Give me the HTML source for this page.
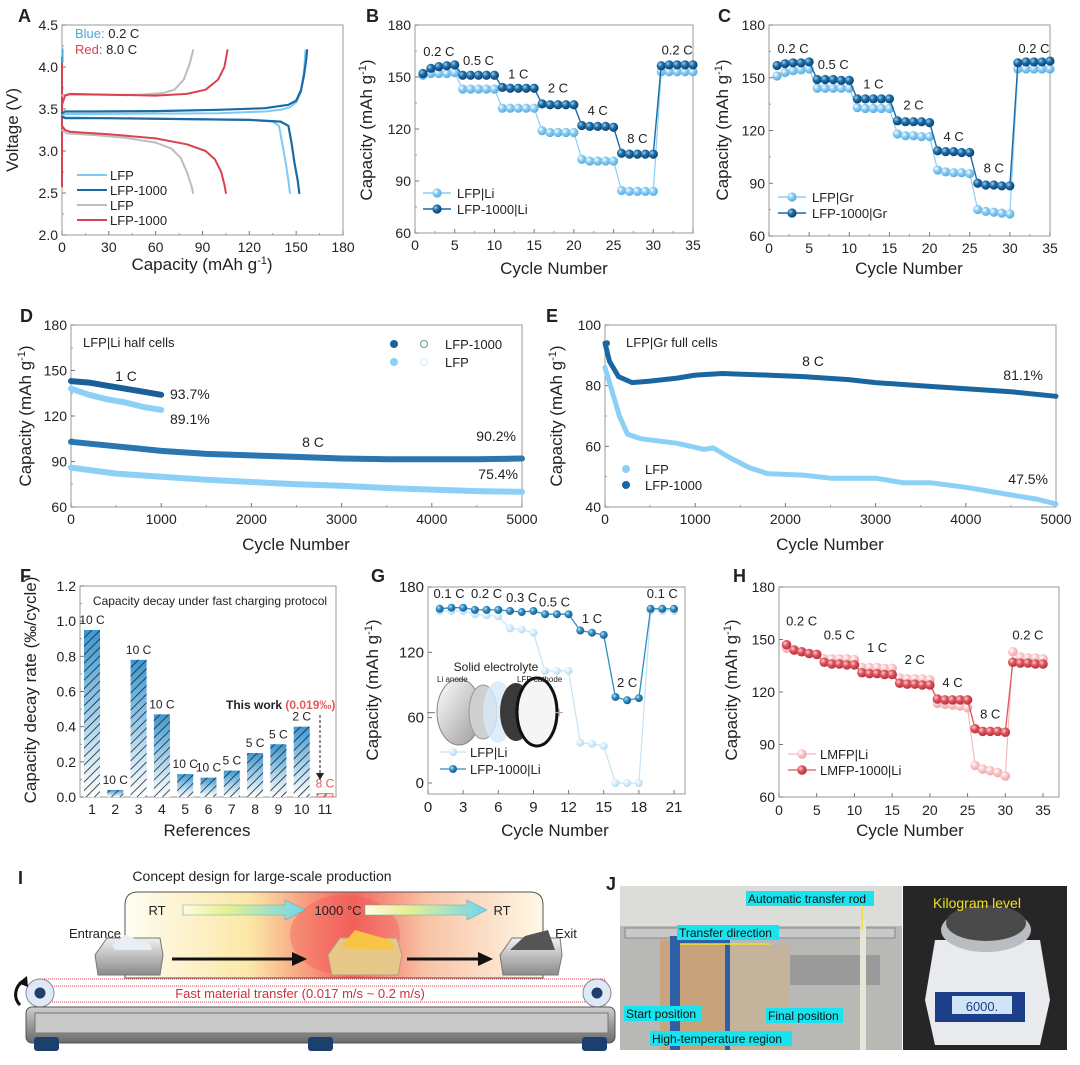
<!DOCTYPE html>
<html><head><meta charset="utf-8">
<style>
html,body{margin:0;padding:0;background:#fff;}
svg{display:block;font-family:"Liberation Sans",Arial,sans-serif;}
</style></head>
<body>
<svg id="fig" width="1080" height="1065" viewBox="0 0 1080 1065" xmlns="http://www.w3.org/2000/svg">
<defs>
<radialGradient id="sphDark" cx="35%" cy="35%" r="65%"><stop offset="0" stop-color="#9fd0f0"/><stop offset="0.45" stop-color="#1d6fa8"/><stop offset="1" stop-color="#0d4373"/></radialGradient>
<radialGradient id="sphLight" cx="35%" cy="35%" r="65%"><stop offset="0" stop-color="#ffffff"/><stop offset="0.45" stop-color="#8ccdf2"/><stop offset="1" stop-color="#5aaee0"/></radialGradient>
<radialGradient id="sphGDark" cx="35%" cy="35%" r="65%"><stop offset="0" stop-color="#bfe4f8"/><stop offset="0.45" stop-color="#2f8cc4"/><stop offset="1" stop-color="#1a628f"/></radialGradient>
<radialGradient id="sphGLight" cx="35%" cy="35%" r="65%"><stop offset="0" stop-color="#ffffff"/><stop offset="0.5" stop-color="#d4ecf9"/><stop offset="1" stop-color="#b3dcf2"/></radialGradient>
<radialGradient id="sphRed" cx="35%" cy="35%" r="65%"><stop offset="0" stop-color="#fbd0d3"/><stop offset="0.45" stop-color="#e0555f"/><stop offset="1" stop-color="#b3333d"/></radialGradient>
<radialGradient id="sphPink" cx="35%" cy="35%" r="65%"><stop offset="0" stop-color="#ffffff"/><stop offset="0.5" stop-color="#f9c6c8"/><stop offset="1" stop-color="#f2a5a9"/></radialGradient>
<linearGradient id="barGrad" x1="0" y1="0" x2="0" y2="1"><stop offset="0" stop-color="#3b97d3"/><stop offset="0.55" stop-color="#a9d4ef"/><stop offset="1" stop-color="#ffffff"/></linearGradient>
<pattern id="hatch" width="6" height="6" patternUnits="userSpaceOnUse" patternTransform="rotate(45)"><line x1="0" y1="0" x2="0" y2="6" stroke="#222" stroke-width="1.6"/></pattern>
<linearGradient id="ovenGrad" x1="0" y1="0" x2="1" y2="0"><stop offset="0" stop-color="#fffdf2"/><stop offset="0.3" stop-color="#fbe7a6"/><stop offset="0.5" stop-color="#f57a6c"/><stop offset="0.55" stop-color="#f26a60"/><stop offset="0.72" stop-color="#f8c3a6"/><stop offset="1" stop-color="#fff8e6"/></linearGradient>
<linearGradient id="arrGrad" x1="0" y1="0" x2="1" y2="0"><stop offset="0" stop-color="#fffbe0"/><stop offset="0.35" stop-color="#e7ef90"/><stop offset="1" stop-color="#6fd6ee"/></linearGradient>
<linearGradient id="baseGrad" x1="0" y1="0" x2="0" y2="1"><stop offset="0" stop-color="#cfcfcf"/><stop offset="0.5" stop-color="#9a9a9a"/><stop offset="1" stop-color="#6a6a6a"/></linearGradient>
<linearGradient id="trayGrad" x1="0" y1="0" x2="0" y2="1"><stop offset="0" stop-color="#f0f0f0"/><stop offset="1" stop-color="#8a8a8a"/></linearGradient>
<linearGradient id="disc1" x1="0" y1="0" x2="1" y2="1"><stop offset="0" stop-color="#ffffff"/><stop offset="1" stop-color="#9a9a9a"/></linearGradient>
</defs>
</svg>
<script>
// ---------- DATA ----------
// Panel A (capacity mAh/g, voltage V)
const aLfpChgX=[0,2,20,60,100,130,140,146,150,153,155,156];
const aLfpChgY=[3.42,3.44,3.44,3.445,3.45,3.47,3.49,3.52,3.58,3.7,3.95,4.2];
const aLfp1ChgX=[0,2,20,60,100,130,145,150,153,155,156.5,157];
const aLfp1ChgY=[3.45,3.47,3.47,3.475,3.49,3.51,3.55,3.6,3.72,3.9,4.1,4.2];
const aLfpDisX=[0,2,30,80,120,135,139,141,143,145,146];
const aLfpDisY=[3.42,3.40,3.39,3.38,3.37,3.35,3.3,3.1,2.9,2.65,2.5];
const aLfp1DisX=[0,2,30,80,120,140,145,147,149,151,152];
const aLfp1DisY=[3.41,3.39,3.39,3.38,3.37,3.35,3.3,3.1,2.85,2.65,2.5];
const aGrayChgX=[0,3,20,50,65,72,78,82,84];
const aGrayChgY=[3.66,3.67,3.67,3.67,3.69,3.73,3.85,4.05,4.2];
const aGrayDisX=[0,3,20,40,60,70,76,80,83,84];
const aGrayDisY=[3.25,3.21,3.19,3.16,3.1,3.03,2.92,2.75,2.58,2.5];
const aRedChgX=[0,2,5,30,60,80,92,100,104,106];
const aRedChgY=[3.55,3.66,3.68,3.67,3.66,3.68,3.73,3.85,4.0,4.2];
const aRedDisX=[0,2,5,30,60,80,92,98,102,104,105];
const aRedDisY=[3.3,3.25,3.23,3.2,3.15,3.08,3.0,2.9,2.75,2.6,2.5];
const aXTicks=[0,30,60,90,120,150,180];
const aYTicks=[2.0,2.5,3.0,3.5,4.0,4.5];
// Panel B
const bLfp=[151,152,152,152,152.5,143,143,143,143,143,132,132,132,132,132,119,118,118,118,118,102.5,101.5,101.5,101.5,101.5,84.5,84,84,84,84,153,153,153,153,153];
const bLfp1=[152,155,156,156.5,157,151,151,151,151,151,144,143.5,143.5,143.5,143.5,134.5,134,134,134,134,122,121.5,121.5,121.5,121,106,105.5,105.5,105.5,105.5,156.5,157,157,157,157];
const bRateLabels=["0.2 C","0.5 C","1 C","2 C","4 C","8 C","0.2 C"];
const bRateX=[3,8,13,18,23,28,33];
const bRateY=[162,157,149,141,128,112,163];
// Panel C
const cLfp=[151,153,154,154.5,155,144,144,144,144,144,133,132.5,132.5,132.5,132.5,118,117,117,116.5,116.5,97.5,96.5,96,96,95.5,75,74,73.5,73,72.5,155,155,155,155,155];
const cLfp1=[157,158,158.5,158.5,159,149,149,149,148.5,148.5,138,138,138,138,138,125.5,125,125,125,124.5,108.5,108,108,107.5,107.5,90,89,89,88.5,88.5,158.5,159,159,159,159.5];
const cRateLabels=["0.2 C","0.5 C","1 C","2 C","4 C","8 C","0.2 C"];
const cRateX=[3,8,13,18,23,28,33];
const cRateY=[164,155,144,132,114,96,164];
const rateXTicks=[0,5,10,15,20,25,30,35];
const rateYTicks=[60,90,120,150,180];
// Panel D
const d1CX=[0,200,400,600,800,1000];
const d1CLfp1=[143,142,140,138,136,134];
const d1CLfp=[138,134,131,129,126,124];
const d8CX=[0,500,1000,1500,2000,2500,3000,3500,4000,4500,5000];
const d8CLfp1=[103,100,97,95,94,93,92,91.5,91.5,91.5,92];
const d8CLfp=[86,82,80,78,76.5,75,74,72.5,71.5,70.5,70];
const dXTicks=[0,1000,2000,3000,4000,5000];
const dYTicks=[60,90,120,150,180];
// Panel E
const eLfp1X=[0,50,150,300,500,800,1000,1300,1800,2200,2700,3000,3500,4000,4500,5000];
const eLfp1Y=[94,88,83,81,81.5,82.5,83.5,84,83.5,83,82,81,80,79,78,76.5];
const eLfpX=[0,80,160,250,400,800,1100,1200,1400,1600,1800,2200,2500,3000,3300,3600,4000,4400,4800,5000];
const eLfpY=[86,78,70,64,62.5,61,59,59.5,56,53,51,50.5,49.5,49.5,48,48,46.5,44.5,42.5,41];
const eYTicks=[40,60,80,100];
// Panel F
const fRefs=[1,2,3,4,5,6,7,8,9,10,11];
const fRates=[0.95,0.04,0.78,0.47,0.13,0.11,0.15,0.25,0.30,0.40,0.019];
const fRateLabels=["10 C","10 C","10 C","10 C","10 C","10 C","5 C","5 C","5 C","2 C","8 C"];
const fYTicks=[0.0,0.2,0.4,0.6,0.8,1.0,1.2];
// Panel G
const gLfp1=[160,161,161,159,159,159,158,157,158,155,155,155,140,138,136,79,76,78,160,160,160];
const gLfp=[158,158,158,155,154,153,142,141,138,103,103,103,37,36,34,0,0,0,158,158,158];
const gRateLabels=["0.1 C","0.2 C","0.3 C","0.5 C","1 C","2 C","0.1 C"];
const gRateX=[1.8,5,8,10.8,14,17,20];
const gRateY=[170,170,166,162,147,88,170];
const gXTicks=[0,3,6,9,12,15,18,21];
const gYTicks=[0,60,120,180];
// Panel H
const hLmfp1=[147,144,143,142,141.5,137,136,136,135.5,135.5,131,130.5,130.5,130,130,125,124.5,124.5,124,124,116,115.5,115.5,115.5,115.5,99,97.5,97.5,97.5,97,137,136.5,136.5,136,136];
const hLmfp=[145,144,143,142,141.5,139,139,139,139,138.5,134,134,134,133.5,133.5,128,127.5,127.5,127.5,127,113.5,113,112.5,112,111,78,76,75,74,72,143,140,139.5,139.5,139];
const hRateLabels=["0.2 C","0.5 C","1 C","2 C","4 C","8 C","0.2 C"];
const hRateX=[3,8,13,18,23,28,33];
const hRateY=[158,150,143,136,123,105,150];

// ---------- HELPERS ----------
const NS="http://www.w3.org/2000/svg";
const svg=document.getElementById('fig');
function mk(parent,tag,attrs,name,inter){
  const el=document.createElementNS(NS,tag);
  for(const k in attrs) el.setAttribute(k,attrs[k]);
  
  
  parent.appendChild(el);
  return el;
}
function txt(parent,x,y,s,name,opts){
  opts=opts||{};
  const t=mk(parent,'text',{x:x,y:y,'font-size':opts.size||14,fill:opts.fill||'#222','text-anchor':opts.anchor||'middle','font-weight':opts.weight||'normal'},name,false);
  if(opts.rot) t.setAttribute('transform','rotate(-90 '+x+' '+y+')');
  t.textContent=s;
  return t;
}
function lin(d0,d1,p0,p1){return v=>p0+(v-d0)*(p1-p0)/(d1-d0);}
function group(name){return mk(svg,'g',{},name,false);}
function frame(g,l,r,t,b,sx,sy,xt,yt,xfmt,yfmt,xMinor,yMinor){
  mk(g,'rect',{x:l,y:t,width:r-l,height:b-t,fill:'none',stroke:'#9a9a9a','stroke-width':1},'plot-frame',false);
  xt.forEach(v=>{const x=sx(v);
    mk(g,'line',{x1:x,x2:x,y1:b,y2:b-4,stroke:'#777'},'x-tick',false);
    txt(g,x,b+17,xfmt(v),'x-tick-label');});
  yt.forEach(v=>{const y=sy(v);
    mk(g,'line',{x1:l,x2:l+4,y1:y,y2:y,stroke:'#777'},'y-tick',false);
    txt(g,l-4,y+5,yfmt(v),'y-tick-label',{anchor:'end'});});
  (xMinor||[]).forEach(v=>{const x=sx(v);mk(g,'line',{x1:x,x2:x,y1:b,y2:b-2,stroke:'#999'},'x-minor-tick',false);});
  (yMinor||[]).forEach(v=>{const y=sy(v);mk(g,'line',{x1:l,x2:l+2,y1:y,y2:y,stroke:'#999'},'y-minor-tick',false);});
}
function mids(a){const o=[];for(let i=0;i<a.length-1;i++)o.push((a[i]+a[i+1])/2);return o;}
function poly(g,xs,ys,sx,sy,stroke,w,name){
  const pts=xs.map((x,i)=>sx(x).toFixed(1)+','+sy(ys[i]).toFixed(1)).join(' ');
  return mk(g,'polyline',{points:pts,fill:'none',stroke:stroke,'stroke-width':w,'stroke-linejoin':'round','stroke-linecap':'round'},name,false);
}
function capTitle(g,x,y,rot,name){
  const t=mk(g,'text',{x:x,y:y,'font-size':17,fill:'#222','text-anchor':'middle'},name,false);
  if(rot) t.setAttribute('transform','rotate(-90 '+x+' '+y+')');
  t.innerHTML='Capacity (mAh g<tspan dy="-6" font-size="11">-1</tspan><tspan dy="6">)</tspan>';
  return t;
}
function letter(x,y,s){txt(svg,x,y,s,'panel-label-'+s.toLowerCase(),{size:18,weight:'bold',anchor:'start'});}
const fmt0=v=>String(v), fmt1=v=>v.toFixed(1);

// ---------- PANEL A ----------
(function(){
  const g=group('panel-a');
  const sx=lin(0,180,62,343), sy=lin(2,4.5,235,25);
  frame(g,62,343,25,235,sx,sy,aXTicks,aYTicks,fmt0,fmt1,mids(aXTicks),mids(aYTicks));
  mk(g,'line',{x1:sx(0),x2:sx(0),y1:sy(2.57),y2:sy(4.12),stroke:'#d9434f','stroke-width':2},'red-vertical-segment',false);
  mk(g,'line',{x1:sx(0)+0.5,x2:sx(0)+0.5,y1:sy(4.05),y2:sy(4.22),stroke:'#4aa8e0','stroke-width':2},'blue-vertical-segment',false);
  poly(g,aGrayChgX,aGrayChgY,sx,sy,'#bdbdbd',2,'lfp-8c-charge');
  poly(g,aGrayDisX,aGrayDisY,sx,sy,'#bdbdbd',2,'lfp-8c-discharge');
  poly(g,aRedChgX,aRedChgY,sx,sy,'#d9434f',2,'lfp1000-8c-charge');
  poly(g,aRedDisX,aRedDisY,sx,sy,'#d9434f',2,'lfp1000-8c-discharge');
  poly(g,aLfpChgX,aLfpChgY,sx,sy,'#7fcaf0',2,'lfp-02c-charge');
  poly(g,aLfpDisX,aLfpDisY,sx,sy,'#7fcaf0',2,'lfp-02c-discharge');
  poly(g,aLfp1ChgX,aLfp1ChgY,sx,sy,'#1b6aa5',2.2,'lfp1000-02c-charge');
  poly(g,aLfp1DisX,aLfp1DisY,sx,sy,'#1b6aa5',2.2,'lfp1000-02c-discharge');
  const t1=mk(g,'text',{x:75,y:38,'font-size':13,'text-anchor':'start',fill:'#222'},'rate-note-blue',false);
  t1.innerHTML='<tspan fill="#4aa8e0">Blue:</tspan> 0.2 C';
  const t2=mk(g,'text',{x:75,y:54,'font-size':13,'text-anchor':'start',fill:'#222'},'rate-note-red',false);
  t2.innerHTML='<tspan fill="#d9434f">Red:</tspan> 8.0 C';
  const leg=[['#7fcaf0','LFP',175],['#1b6aa5','LFP-1000',190],['#bdbdbd','LFP',205],['#d9434f','LFP-1000',220]];
  leg.forEach(l=>{mk(g,'line',{x1:77,x2:107,y1:l[2],y2:l[2],stroke:l[0],'stroke-width':2},'legend-line',false);
    txt(g,110,l[2]+5,l[1],'legend-entry',{anchor:'start',size:13});});
  txt(g,18,130,'Voltage (V)','y-axis-title',{size:17,rot:true});
  capTitle(g,202,270,false,'x-axis-title');
})();
letter(18,22,'A');

// ---------- rate panels ----------
function ratePanel(name,l,r,t,b,ymin,ymax,s1,s2,g1,g2,lab1,lab2,rl,rx,ry,legY,legX,xTicks,yTicks,rad,lc1,lc2){
  const g=group(name);
  const sx=lin(0,xTicks[xTicks.length-1],l,r), sy=lin(ymin,ymax,b,t);
  frame(g,l,r,t,b,sx,sy,xTicks,yTicks,fmt0,fmt0,mids(xTicks),mids(yTicks));
  const xs=s1.map((v,i)=>i+1);
  poly(g,xs,s2,sx,sy,lc2,1.2,'series-line-light');
  xs.forEach((x,i)=>mk(g,'circle',{cx:sx(x),cy:sy(s2[i]),r:rad,fill:'url(#'+g2+')'},'point-light',false));
  poly(g,xs,s1,sx,sy,lc1,1.4,'series-line-dark');
  xs.forEach((x,i)=>mk(g,'circle',{cx:sx(x),cy:sy(s1[i]),r:rad,fill:'url(#'+g1+')'},'point-dark',false));
  rl.forEach((s,i)=>txt(g,sx(rx[i]),sy(ry[i]),s,'rate-label',{size:13}));
  [[g2,lc2,lab2,legY],[g1,lc1,lab1,legY+16]].forEach(e=>{
    mk(g,'line',{x1:legX,x2:legX+28,y1:e[3],y2:e[3],stroke:e[1],'stroke-width':1.4},'legend-line',false);
    mk(g,'circle',{cx:legX+14,cy:e[3],r:rad,fill:'url(#'+e[0]+')'},'legend-marker',false);
    txt(g,legX+34,e[3]+5,e[2],'legend-entry',{anchor:'start',size:13});
  });
  return {g:g,sx:sx,sy:sy};
}
(function(){
  const p=ratePanel('panel-b',415,693,25,233,60,180,bLfp1,bLfp,'sphDark','sphLight','LFP-1000|Li','LFP|Li',bRateLabels,bRateX,bRateY,193,423,rateXTicks,rateYTicks,4.6,'#1b6aa5','#8ccdf2');
  capTitle(p.g,372,130,true,'y-axis-title');
  txt(p.g,554,274,'Cycle Number','x-axis-title',{size:17});
})();
letter(366,22,'B');
(function(){
  const p=ratePanel('panel-c',769,1050,25,236,60,180,cLfp1,cLfp,'sphDark','sphLight','LFP-1000|Gr','LFP|Gr',cRateLabels,cRateX,cRateY,197,778,rateXTicks,rateYTicks,4.6,'#1b6aa5','#8ccdf2');
  capTitle(p.g,728,130,true,'y-axis-title');
  txt(p.g,909,274,'Cycle Number','x-axis-title',{size:17});
})();
letter(718,22,'C');

// ---------- PANEL D ----------
(function(){
  const g=group('panel-d');
  const sx=lin(0,5000,71,522), sy=lin(60,180,507,325);
  frame(g,71,522,325,507,sx,sy,dXTicks,dYTicks,fmt0,fmt0,mids(dXTicks),mids(dYTicks));
  poly(g,d8CX,d8CLfp,sx,sy,'#8dd0f5',6,'lfp-8c-series');
  poly(g,d8CX,d8CLfp1,sx,sy,'#2a76b0',6,'lfp1000-8c-series');
  poly(g,d1CX,d1CLfp,sx,sy,'#8dd0f5',6,'lfp-1c-series');
  poly(g,d1CX,d1CLfp1,sx,sy,'#1a5f97',6,'lfp1000-1c-series');
  txt(g,83,347,'LFP|Li half cells','panel-note',{anchor:'start',size:13});
  txt(g,126,381,'1 C','rate-label',{size:14});
  txt(g,170,399,'93.7%','retention-label',{anchor:'start',size:14});
  txt(g,170,424,'89.1%','retention-label',{anchor:'start',size:14});
  txt(g,313,447,'8 C','rate-label',{size:14});
  txt(g,516,441,'90.2%','retention-label',{anchor:'end',size:14});
  txt(g,518,479,'75.4%','retention-label',{anchor:'end',size:14});
  mk(g,'circle',{cx:394,cy:344,r:4,fill:'#1a5f97'},'legend-marker',false);
  mk(g,'circle',{cx:424,cy:344,r:3.5,fill:'none',stroke:'#6b9b9b'},'legend-marker',false);
  txt(g,445,349,'LFP-1000','legend-entry',{anchor:'start',size:13});
  mk(g,'circle',{cx:394,cy:362,r:4,fill:'#8dd0f5'},'legend-marker',false);
  mk(g,'circle',{cx:424,cy:362,r:3.5,fill:'none',stroke:'#cfeaf8'},'legend-marker',false);
  txt(g,445,367,'LFP','legend-entry',{anchor:'start',size:13});
  capTitle(g,31,416,true,'y-axis-title');
  txt(g,296,550,'Cycle Number','x-axis-title',{size:17});
})();
letter(20,322,'D');

// ---------- PANEL E ----------
(function(){
  const g=group('panel-e');
  const sx=lin(0,5000,605,1056), sy=lin(40,100,507,325);
  frame(g,605,1056,325,507,sx,sy,dXTicks,eYTicks,fmt0,fmt0,mids(dXTicks),mids(eYTicks));
  poly(g,eLfpX,eLfpY,sx,sy,'#8dd0f5',5,'lfp-series');
  poly(g,eLfp1X,eLfp1Y,sx,sy,'#1a66a0',5,'lfp1000-series');
  mk(g,'circle',{cx:sx(0)+2,cy:sy(94),r:3,fill:'#1a66a0'},'first-point',false);
  txt(g,626,347,'LFP|Gr full cells','panel-note',{anchor:'start',size:13});
  txt(g,813,366,'8 C','rate-label',{size:14});
  txt(g,1043,380,'81.1%','retention-label',{anchor:'end',size:14});
  txt(g,1048,484,'47.5%','retention-label',{anchor:'end',size:14});
  mk(g,'circle',{cx:626,cy:469,r:4,fill:'#8dd0f5'},'legend-marker',false);
  txt(g,645,474,'LFP','legend-entry',{anchor:'start',size:13});
  mk(g,'circle',{cx:626,cy:485,r:4,fill:'#1a66a0'},'legend-marker',false);
  txt(g,645,490,'LFP-1000','legend-entry',{anchor:'start',size:13});
  capTitle(g,562,416,true,'y-axis-title');
  txt(g,830,550,'Cycle Number','x-axis-title',{size:17});
})();
letter(546,322,'E');

// ---------- PANEL F ----------
(function(){
  const g=group('panel-f');
  const sx=lin(1,11,92,325), sy=lin(0,1.2,797,586);
  frame(g,80,336,586,797,sx,sy,fRefs,fYTicks,fmt0,fmt1,[],mids(fYTicks));
  const bw=16;
  fRefs.forEach((c,i)=>{
    const x=sx(c)-bw/2, y=sy(fRates[i]), h=sy(0)-y;
    const last=i===fRefs.length-1;
    mk(g,'rect',{x:x,y:y,width:bw,height:h,fill:last?'#fde3e3':'url(#barGrad)'},'bar-ref-'+c,false);
    mk(g,'rect',{x:x,y:y,width:bw,height:h,fill:'url(#hatch)',stroke:last?'#e05a5a':'none','stroke-width':0.8},'bar-hatch-ref-'+c,false);
    txt(g,sx(c),y-6,fRateLabels[i],'bar-rate-label',{size:12,fill:last?'#e8585e':'#222'});
  });
  txt(g,210,605,'Capacity decay under fast charging protocol','panel-note',{size:12});
  const tw=mk(g,'text',{x:226,y:709,'font-size':12,'text-anchor':'start','font-weight':'bold',fill:'#222'},'this-work-label',false);
  tw.innerHTML='This work <tspan fill="#e8585e">(0.019‰)</tspan>';
  mk(g,'line',{x1:320,x2:320,y1:715,y2:775,stroke:'#222','stroke-dasharray':'3,2'},'this-work-arrow',false);
  mk(g,'path',{d:'M316,773 L324,773 L320,780 Z',fill:'#222'},'this-work-arrowhead',false);
  txt(g,36,690,'Capacity decay rate (‰/cycle)','y-axis-title',{size:17,rot:true});
  txt(g,207,836,'References','x-axis-title',{size:17});
})();
letter(20,582,'F');

// ---------- PANEL G ----------
(function(){
  const g=group('panel-g');
  const sx=lin(0,21,428,674), sy=lin(0,180,783,587);
  mk(g,'rect',{x:428,y:587,width:257,height:207,fill:'none',stroke:'#9a9a9a'},'plot-frame',false);
  gXTicks.forEach(v=>{mk(g,'line',{x1:sx(v),x2:sx(v),y1:794,y2:790,stroke:'#777'},'x-tick',false);txt(g,sx(v),812,fmt0(v),'x-tick-label',{size:15});});
  gYTicks.forEach(v=>{mk(g,'line',{x1:428,x2:432,y1:sy(v),y2:sy(v),stroke:'#777'},'y-tick',false);txt(g,424,sy(v)+5,fmt0(v),'y-tick-label',{anchor:'end',size:15});});
  // inset battery
  const ins=mk(g,'g',{},'battery-inset',false);
  mk(ins,'ellipse',{cx:459,cy:712,rx:22,ry:33,fill:'url(#disc1)',stroke:'#888'},'li-anode-case',false);
  mk(ins,'ellipse',{cx:483,cy:712,rx:14,ry:27,fill:'#cfcfcf',stroke:'#999'},'li-anode',false);
  mk(ins,'ellipse',{cx:498,cy:712,rx:15,ry:31,fill:'#d6e9f7',opacity:0.8},'solid-electrolyte',false);
  mk(ins,'ellipse',{cx:516,cy:712,rx:16,ry:29,fill:'#3a3a3a'},'lfp-cathode',false);
  mk(ins,'ellipse',{cx:537,cy:712,rx:20,ry:34,fill:'#f5f5f5',stroke:'#111','stroke-width':3},'cathode-case',false);
  txt(ins,431,718,'−','minus-sign',{size:16,fill:'#888'});
  txt(ins,559,718,'+','plus-sign',{size:16,fill:'#aaa'});
  txt(ins,496,671,'Solid electrolyte','inset-label',{size:12});
  txt(ins,437,682,'Li anode','inset-label',{size:8,anchor:'start'});
  txt(ins,517,682,'LFP cathode','inset-label',{size:8,anchor:'start'});
  const xs=gLfp1.map((v,i)=>i+1);
  poly(g,xs,gLfp,sx,sy,'#c4e4f6',1.2,'series-line-light');
  xs.forEach((x,i)=>mk(g,'circle',{cx:sx(x),cy:sy(gLfp[i]),r:4,fill:'url(#sphGLight)'},'point-light',false));
  poly(g,xs,gLfp1,sx,sy,'#2f8cc4',1.3,'series-line-dark');
  xs.forEach((x,i)=>mk(g,'circle',{cx:sx(x),cy:sy(gLfp1[i]),r:4,fill:'url(#sphGDark)'},'point-dark',false));
  gRateLabels.forEach((s,i)=>txt(g,sx(gRateX[i]),sy(gRateY[i]),s,'rate-label',{size:13}));
  [['sphGLight','#c4e4f6','LFP|Li',752],['sphGDark','#2f8cc4','LFP-1000|Li',769]].forEach(e=>{
    mk(g,'line',{x1:440,x2:466,y1:e[3],y2:e[3],stroke:e[1],'stroke-width':1.3},'legend-line',false);
    mk(g,'circle',{cx:453,cy:e[3],r:4,fill:'url(#'+e[0]+')'},'legend-marker',false);
    txt(g,470,e[3]+5,e[2],'legend-entry',{anchor:'start',size:13});
  });
  capTitle(g,378,690,true,'y-axis-title');
  txt(g,555,836,'Cycle Number','x-axis-title',{size:17});
})();
letter(371,582,'G');

// ---------- PANEL H ----------
(function(){
  const g=group('panel-h');
  const sx=lin(0,35,779,1043), sy=lin(60,180,797,587);
  mk(g,'rect',{x:779,y:587,width:280,height:210,fill:'none',stroke:'#9a9a9a'},'plot-frame',false);
  rateXTicks.forEach(v=>{mk(g,'line',{x1:sx(v),x2:sx(v),y1:797,y2:793,stroke:'#777'},'x-tick',false);txt(g,sx(v),815,fmt0(v),'x-tick-label');});
  rateYTicks.forEach(v=>{mk(g,'line',{x1:779,x2:783,y1:sy(v),y2:sy(v),stroke:'#777'},'y-tick',false);txt(g,775,sy(v)+5,fmt0(v),'y-tick-label',{anchor:'end'});});
  const xs=hLmfp1.map((v,i)=>i+1);
  poly(g,xs,hLmfp,sx,sy,'#f6b9bc',1.2,'series-line-light');
  xs.forEach((x,i)=>mk(g,'circle',{cx:sx(x),cy:sy(hLmfp[i]),r:4.8,fill:'url(#sphPink)'},'point-light',false));
  poly(g,xs,hLmfp1,sx,sy,'#e0555f',1.3,'series-line-dark');
  xs.forEach((x,i)=>mk(g,'circle',{cx:sx(x),cy:sy(hLmfp1[i]),r:4.8,fill:'url(#sphRed)'},'point-dark',false));
  hRateLabels.forEach((s,i)=>txt(g,sx(hRateX[i]),sy(hRateY[i]),s,'rate-label',{size:13}));
  [['sphPink','#f6b9bc','LMFP|Li',754],['sphRed','#e0555f','LMFP-1000|Li',770]].forEach(e=>{
    mk(g,'line',{x1:788,x2:816,y1:e[3],y2:e[3],stroke:e[1],'stroke-width':1.3},'legend-line',false);
    mk(g,'circle',{cx:802,cy:e[3],r:4.8,fill:'url(#'+e[0]+')'},'legend-marker',false);
    txt(g,820,e[3]+5,e[2],'legend-entry',{anchor:'start',size:13});
  });
  capTitle(g,737,690,true,'y-axis-title');
  txt(g,910,836,'Cycle Number','x-axis-title',{size:17});
})();
letter(733,582,'H');

// ---------- PANEL I ----------
(function(){
  const g=group('panel-i');
  txt(g,262,881,'Concept design for large-scale production','schematic-title',{size:14});
  mk(g,'path',{d:'M125,978 L125,905 Q125,892 138,892 L530,892 Q543,892 543,905 L543,978 Z',fill:'url(#ovenGrad)',stroke:'#555','stroke-width':1},'furnace-zone',false);
  mk(g,'ellipse',{cx:345,cy:935,rx:55,ry:40,fill:'#f0504f',opacity:0.35},'hot-zone-glow',false);
  txt(g,157,915,'RT','temp-label',{size:13});
  mk(g,'path',{d:'M183,905 L285,905 L285,900 L305,910 L285,920 L285,915 L183,915 Z',fill:'url(#arrGrad)',stroke:'#6ab',"stroke-width":0.6},'heating-arrow',false);
  txt(g,338,915,'1000 °C','temp-label',{size:13});
  mk(g,'path',{d:'M365,905 L467,905 L467,900 L487,910 L467,920 L467,915 L365,915 Z',fill:'url(#arrGrad)',stroke:'#6ab',"stroke-width":0.6},'cooling-arrow',false);
  txt(g,502,915,'RT','temp-label',{size:13});
  txt(g,95,938,'Entrance','entrance-label',{size:13});
  txt(g,566,938,'Exit','exit-label',{size:13});
  // trays
  mk(g,'path',{d:'M95,955 L107,938 L160,938 L163,955 L160,975 L98,975 Z',fill:'url(#trayGrad)',stroke:'#777'},'entrance-tray',false);
  mk(g,'path',{d:'M112,945 L125,935 L150,944 L152,950 L115,950 Z',fill:'#e8eef4'},'entrance-powder',false);
  mk(g,'path',{d:'M328,955 L340,938 L397,938 L402,955 L398,975 L332,975 Z',fill:'#e8c888',stroke:'#b98'},'hot-tray',false);
  mk(g,'path',{d:'M340,948 L355,930 L390,940 L395,950 Z',fill:'#f7c444'},'hot-powder',false);
  mk(g,'path',{d:'M500,955 L512,938 L560,938 L562,955 L558,975 L503,975 Z',fill:'url(#trayGrad)',stroke:'#777'},'exit-tray',false);
  mk(g,'path',{d:'M510,950 L525,936 L548,930 L555,950 Z',fill:'#555'},'exit-powder',false);
  mk(g,'line',{x1:172,x2:295,y1:959,y2:959,stroke:'#111','stroke-width':3},'transfer-arrow-1',false);
  mk(g,'path',{d:'M292,952 L307,959 L292,966 Z',fill:'#111'},'transfer-arrowhead-1',false);
  mk(g,'line',{x1:407,x2:480,y1:959,y2:959,stroke:'#111','stroke-width':3},'transfer-arrow-2',false);
  mk(g,'path',{d:'M478,952 L493,959 L478,966 Z',fill:'#111'},'transfer-arrowhead-2',false);
  // belt
  mk(g,'rect',{x:40,y:979,width:565,height:7,fill:'#fff',stroke:'#d9434f','stroke-dasharray':'1,1'},'belt-top',false);
  mk(g,'rect',{x:40,y:1002,width:565,height:7,fill:'#fff',stroke:'#d9434f','stroke-dasharray':'1,1'},'belt-bottom',false);
  txt(g,300,998,'Fast material transfer (0.017 m/s ~ 0.2 m/s)','belt-label',{size:13,fill:'#c8323d'});
  mk(g,'circle',{cx:40,cy:993,r:14,fill:'#dfe8f5',stroke:'#889'},'roller-left',false);
  mk(g,'circle',{cx:40,cy:993,r:5.5,fill:'#1d3f6e'},'roller-left-hub',false);
  mk(g,'circle',{cx:597,cy:993,r:14,fill:'#dfe8f5',stroke:'#889'},'roller-right',false);
  mk(g,'circle',{cx:597,cy:993,r:5.5,fill:'#1d3f6e'},'roller-right-hub',false);
  mk(g,'path',{d:'M20,1005 A15,15 0 0 1 24,981',fill:'none',stroke:'#111','stroke-width':3},'rotation-arrow',false);
  mk(g,'path',{d:'M18,983 L27,976 L28,987 Z',fill:'#111'},'rotation-arrowhead',false);
  mk(g,'rect',{x:26,y:1007,width:589,height:36,rx:6,fill:'url(#baseGrad)',stroke:'#555'},'conveyor-base',false);
  mk(g,'rect',{x:35,y:1013,width:573,height:20,fill:'#c9c9c9',stroke:'#777'},'conveyor-inner',false);
  [34,308,582].forEach(x=>mk(g,'rect',{x:x,y:1037,width:25,height:14,rx:3,fill:'#1d3f6e'},'conveyor-foot',false));
})();
letter(18,884,'I');

// ---------- PANEL J ----------
(function(){
  const g=group('panel-j');
  mk(g,'rect',{x:620,y:886,width:282,height:164,fill:'#b8b8b4'},'photo-furnace',false);
  mk(g,'rect',{x:620,y:886,width:282,height:40,fill:'#dcdcd8'},'photo-wall',false);
  mk(g,'rect',{x:625,y:928,width:270,height:10,fill:'#c8c8c8',stroke:'#888'},'transfer-rail',false);
  mk(g,'rect',{x:660,y:940,width:55,height:110,fill:'#c9a57f'},'furnace-body-left',false);
  mk(g,'rect',{x:670,y:936,width:60,height:114,fill:'#2f5fa6'},'furnace-frame',false);
  mk(g,'rect',{x:680,y:944,width:45,height:106,fill:'#c7a27a'},'furnace-front',false);
  mk(g,'rect',{x:730,y:945,width:60,height:105,fill:'#c4b49c'},'furnace-side',false);
  mk(g,'rect',{x:790,y:955,width:90,height:30,fill:'#9a9a9a'},'tube-end',false);
  mk(g,'rect',{x:860,y:920,width:6,height:130,fill:'#e8e4d8'},'hose',false);
  mk(g,'rect',{x:903,y:886,width:164,height:164,fill:'#262626'},'photo-scale',false);
  mk(g,'path',{d:'M925,1000 L935,940 L1040,940 L1050,1000 L1040,1045 L935,1045 Z',fill:'#e8eaee'},'balance-body',false);
  mk(g,'ellipse',{cx:986,cy:930,rx:45,ry:22,fill:'#b9bcc0'},'balance-pan',false);
  mk(g,'ellipse',{cx:986,cy:923,rx:40,ry:18,fill:'#4a4a4a'},'powder-kilogram',false);
  mk(g,'rect',{x:935,y:992,width:90,height:30,fill:'#1d3f8a'},'balance-panel',false);
  mk(g,'rect',{x:952,y:996,width:60,height:18,fill:'#cfe4f5'},'balance-display',false);
  txt(g,982,1011,'6000.','balance-reading',{size:13,fill:'#1d3f8a'});
  const lab=[['Automatic transfer rod',746,891,128],['Transfer direction',677,925,102],['Start position',624,1006,77],['Final position',766,1008,77],['High-temperature region',650,1031,142]];
  lab.forEach(l=>{mk(g,'rect',{x:l[1],y:l[2],width:l[3],height:15,fill:'#19e3ee'},'callout-bg',false);
    txt(g,l[1]+2,l[2]+12,l[0],'callout-label',{anchor:'start',size:12,fill:'#111'});});
  mk(g,'line',{x1:680,x2:770,y1:944,y2:944,stroke:'#f0e020','stroke-width':1.5},'direction-arrow',false);
  mk(g,'line',{x1:862,x2:862,y1:905,y2:930,stroke:'#f0e020','stroke-width':1.5},'rod-pointer',false);
  txt(g,977,908,'Kilogram level','kilogram-label',{size:14,fill:'#f0e020'});
})();
letter(606,890,'J');
</script>
</body></html>
